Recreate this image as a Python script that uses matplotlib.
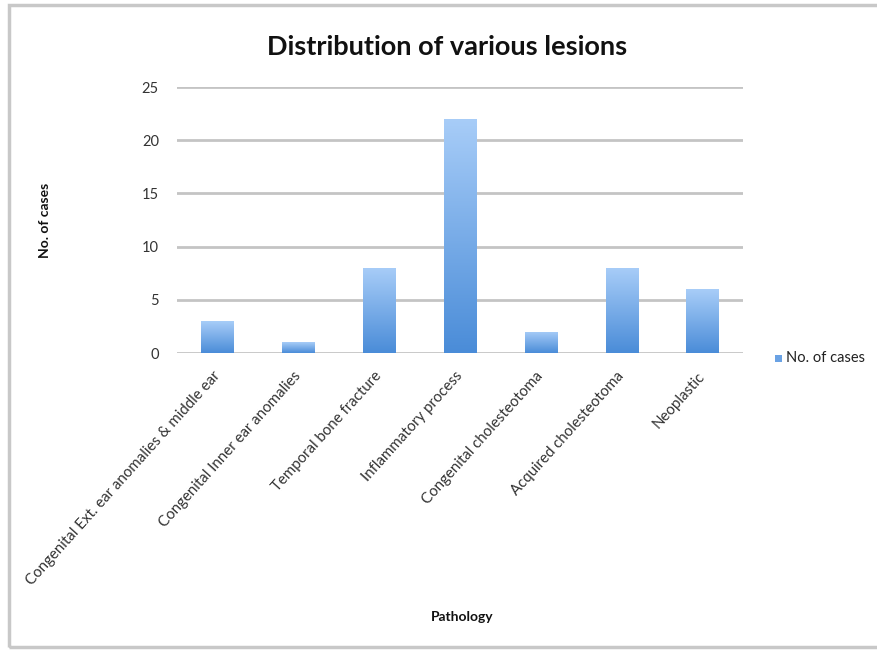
import numpy as np
import matplotlib
matplotlib.use("Agg")
import matplotlib.pyplot as plt
from matplotlib.patches import Rectangle
from matplotlib.colors import LinearSegmentedColormap

plt.rcParams['font.family'] = ['Lato', 'DejaVu Sans']

categories = [
    "Congenital Ext. ear anomalies & middle ear",
    "Congenital Inner ear anomalies",
    "Temporal bone fracture",
    "Inflammatory process",
    "Congenital cholesteotoma",
    "Acquired cholesteotoma",
    "Neoplastic",
]
cases = [3, 1, 8, 22, 2, 8, 6]
yticks = [0, 5, 10, 15, 20, 25]

W, H = 877, 650
fig = plt.figure(figsize=(W / 100, H / 100), dpi=100)

# outer frame
fig.patches.append(Rectangle((9 / W, 3 / H), 1.2, (H - 8) / H, transform=fig.transFigure,
                             fill=False, edgecolor="#c8c8c8", linewidth=2.5))

ax = fig.add_axes([177 / W, 1 - 353 / H, (743 - 177) / W, (353 - 87) / H])

x = np.arange(len(categories))
width = 0.4
bars = ax.bar(x, cases, width=width, color="none", edgecolor="none", zorder=3)

cmap = LinearSegmentedColormap.from_list("barfade", ["#4a8cd8", "#a8cdf8"])
grad = np.linspace(0, 1, 256).reshape(-1, 1)
for b in bars:
    x0, y0 = b.get_x(), b.get_y()
    w, h = b.get_width(), b.get_height()
    im = ax.imshow(grad, cmap=cmap, origin="lower", aspect="auto",
                   extent=[x0, x0 + w, y0, y0 + h], zorder=3,
                   interpolation="bilinear")
    im.set_clip_path(b)

ax.set_xlim(-0.5, len(categories) - 0.5)
ax.set_ylim(0, 25)
ax.set_yticks(yticks)
ax.set_yticklabels([str(t) for t in yticks], fontsize=10.5, color="#333333")
ax.yaxis.grid(True, color="#c4c4c4", linewidth=2)
ax.set_axisbelow(True)
for s in ax.spines.values():
    s.set_visible(False)
ax.tick_params(axis="both", length=0)
ax.tick_params(axis="y", pad=13)

ax.set_xticks(x)
ax.set_xticklabels(categories, rotation=48, ha="right", va="center",
                   rotation_mode="anchor", fontsize=10.8, color="#333333")
ax.tick_params(axis="x", pad=15)

fig.text(447 / W, 1 - 47 / H, "Distribution of various lesions", ha="center", va="center",
         fontsize=19.5, fontweight="bold", color="#111111")
fig.text(45 / W, 1 - 220 / H, "No. of cases", ha="center", va="center", rotation=90,
         fontsize=10, fontweight="bold", color="#111111")
fig.text(462 / W, 1 - 617 / H, "Pathology", ha="center", va="center",
         fontsize=10, fontweight="bold", color="#111111")

# legend
fig.patches.append(Rectangle((775 / W, 1 - 362 / H), 7 / W, 7 / H, transform=fig.transFigure,
                             facecolor="#6aa2e4", edgecolor="none"))
fig.text(786 / W, 1 - 358 / H, "No. of cases", ha="left", va="center",
         fontsize=10.5, color="#222222")

fig.savefig("out.png", dpi=100)
